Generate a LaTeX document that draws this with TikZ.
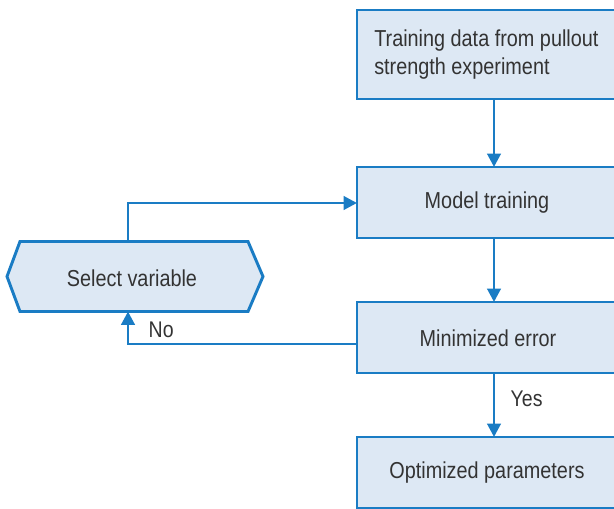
\documentclass[tikz,border=0pt]{standalone}
\usepackage{fontspec}
\setmainfont{Liberation Sans}[FakeStretch=0.86]
\usetikzlibrary{arrows.meta}
\definecolor{boxfill}{HTML}{DDE8F4}
\definecolor{boxline}{HTML}{1A7CC4}
\definecolor{txt}{HTML}{333333}
\tikzset{
  box/.style={draw=boxline, fill=boxfill, line width=2.2pt, text=txt},
  conn/.style={draw=boxline, line width=2.2pt, -{Triangle[length=10pt,width=10pt]}},
  lab/.style={text=txt, font=\fontsize{17}{20}\selectfont}
}
\begin{document}
\begin{tikzpicture}[x=0.75pt,y=-0.75pt, font=\fontsize{17.3}{21}\selectfont]
\useasboundingbox (0,0) rectangle (614,509);
\clip (0,0) rectangle (614,509);
% boxes
\draw[box] (357,10) rectangle (620,99);
\node[anchor=west, text=txt, align=left, inner sep=0pt] (t1) at (374,55) {Training data from pullout\\strength experiment};
\draw[box] (357,167) rectangle (620,238);
\node[text=txt] (t2) at (487,203) {Model training};
\draw[box] (357,302) rectangle (620,373);
\node[text=txt] (t3) at (488,338) {Minimized error};
\draw[box] (357,437) rectangle (620,508);
\node[text=txt] (t4) at (487,472.5) {Optimized parameters};
% hexagon
\draw[box] (20,241.5) -- (248,241.5) -- (263,276.5) -- (248,311.5) -- (20,311.5) -- (7,276.5) -- cycle;
\node[text=txt] (hx) at (132,278) {Select variable};
% connectors
\coordinate (a1) at (494,99);
\coordinate (a2) at (494,167);
\coordinate (a3) at (494,238);
\coordinate (a4) at (494,302);
\coordinate (a5) at (494,373);
\coordinate (a6) at (494,437);
\coordinate (h1) at (128,241.5);
\coordinate (h2) at (128,311.5);
\coordinate (m1) at (357,344);
\coordinate (m2) at (357,203);
\draw[conn] (a1) -- (a2);
\draw[conn] (a3) -- (a4);
\draw[conn] (a5) -- (a6);
\draw[conn] (h1) |- (m2);
\draw[conn] (m1) -| (h2);
\node[lab, anchor=west] (no) at (144,330) {No};
\node[lab, anchor=west] (yes) at (506,399) {Yes};
\end{tikzpicture}
\end{document}
